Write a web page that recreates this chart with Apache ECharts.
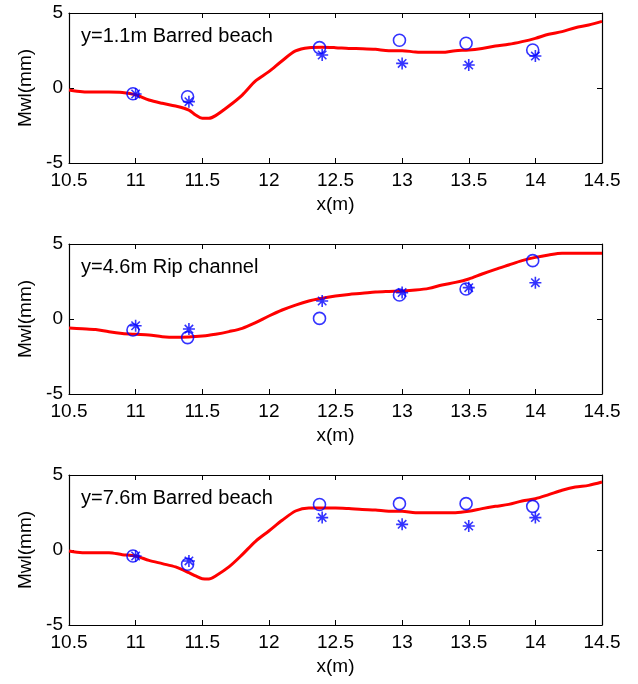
<!DOCTYPE html>
<html>
<head>
<meta charset="utf-8">
<script src="https://cdn.jsdelivr.net/npm/echarts@6/dist/echarts.min.js"></script>
<style>
  html, body { margin: 0; padding: 0; background: #fff; }
  #chart { width: 638px; height: 684px; }
</style>
</head>
<body>
<div id="chart"></div>
<script>
// Cross-shore positions (m) of the model profile
const modelX = [10.5, 10.6, 10.7, 10.8, 10.9, 11.0, 11.1, 11.2, 11.3, 11.4, 11.45, 11.5, 11.55, 11.6, 11.7, 11.8, 11.9,
  12.0, 12.1, 12.2, 12.3, 12.4, 12.5, 12.6, 12.7, 12.8, 12.9, 13.0, 13.1, 13.2, 13.3, 13.4, 13.5,
  13.6, 13.7, 13.8, 13.9, 14.0, 14.1, 14.2, 14.3, 14.4, 14.5];

// Modelled mean water level (mm) at each transect
const modelY11 = [-0.13, -0.25, -0.27, -0.27, -0.3, -0.45, -0.8, -1.02, -1.2, -1.47, -1.8, -2.02, -2.02, -1.84, -1.2, -0.47, 0.47,
  1.09, 1.82, 2.47, 2.69, 2.72, 2.69, 2.64, 2.62, 2.58, 2.49, 2.49, 2.4, 2.38, 2.38, 2.49, 2.53,
  2.64, 2.8, 2.91, 3.09, 3.31, 3.58, 3.76, 4.02, 4.2, 4.44];
const modelY46 = [-0.6, -0.65, -0.7, -0.85, -0.96, -1.02, -1.07, -1.18, -1.22, -1.2, -1.17, -1.13, -1.08, -1.02, -0.84, -0.62, -0.24,
  0.2, 0.6, 0.93, 1.2, 1.38, 1.53, 1.64, 1.71, 1.8, 1.84, 1.87, 1.93, 2.04, 2.27, 2.44, 2.67,
  3.0, 3.31, 3.6, 3.89, 4.11, 4.27, 4.38, 4.38, 4.38, 4.38];
const modelY76 = [-0.07, -0.18, -0.18, -0.18, -0.31, -0.4, -0.69, -0.91, -1.13, -1.51, -1.73, -1.91, -1.93, -1.73, -1.13, -0.31, 0.58,
  1.27, 1.98, 2.6, 2.8, 2.8, 2.8, 2.76, 2.7, 2.67, 2.58, 2.58, 2.49, 2.49, 2.49, 2.49, 2.58,
  2.76, 2.91, 3.04, 3.27, 3.42, 3.69, 3.98, 4.2, 4.31, 4.53];

// Gauge positions (m) for the two measured data sets
const circleX = [10.98, 11.39, 12.38, 12.98, 13.48, 13.98];
const starX = [11.0, 11.4, 12.4, 13.0, 13.5, 14.0];

// Measured mean water level (mm): circles and asterisks
const circleY11 = [-0.38, -0.58, 2.69, 3.18, 2.98, 2.53];
const starY11 = [-0.4, -0.91, 2.2, 1.64, 1.53, 2.13];
const circleY46 = [-0.73, -1.24, 0.04, 1.6, 2.0, 3.89];
const starY46 = [-0.45, -0.67, 1.2, 1.76, 2.09, 2.42];
const circleY76 = [-0.4, -0.95, 3.03, 3.09, 3.09, 2.91];
const starY76 = [-0.4, -0.73, 2.16, 1.71, 1.6, 2.16];

// Panel captions
const captions = ['y=1.1m Barred beach', 'y=4.6m Rip channel', 'y=7.6m Barred beach'];

// Axis ticks
const xMin = 10.5, xMax = 14.5, xStep = 0.5;
const yMin = -5, yMax = 5, yStep = 5;

const panels = [
  { model: modelY11, circles: circleY11, stars: starY11 },
  { model: modelY46, circles: circleY46, stars: starY46 },
  { model: modelY76, circles: circleY76, stars: starY76 }
];

const FONT = "'Liberation Sans', Arial, sans-serif";
const FS = 19;
const gridTops = [13, 244, 475];
const STAR = 'path://M10,0L10,20M0,10L20,10M3,3L17,17M3,17L17,3';

const zip = (xs, ys) => xs.map((x, i) => [x, ys[i]]);

const grids = [], xAxes = [], yAxes = [], series = [], titles = [];

panels.forEach((p, i) => {
  grids.push({ left: 69, right: 36, top: gridTops[i], height: 150, containLabel: false });

  const axisLine = { show: true, onZero: false, lineStyle: { color: '#000', width: 1.2 } };
  const tick = { show: true, inside: true, length: 5, lineStyle: { color: '#000', width: 1 } };

  xAxes.push({
    type: 'value', gridIndex: i, position: 'bottom', min: xMin, max: xMax, interval: xStep,
    axisLine, axisTick: tick, splitLine: { show: false },
    axisLabel: { color: '#000', fontFamily: FONT, fontSize: FS, margin: 8 },
    name: 'x(m)', nameLocation: 'middle', nameGap: 32,
    nameTextStyle: { color: '#000', fontFamily: FONT, fontSize: FS }
  });
  xAxes.push({
    type: 'value', gridIndex: i, position: 'top', min: xMin, max: xMax, interval: xStep,
    axisLine, axisTick: tick, splitLine: { show: false }, axisLabel: { show: false }
  });
  yAxes.push({
    type: 'value', gridIndex: i, position: 'left', min: yMin, max: yMax, interval: yStep,
    axisLine, axisTick: tick, splitLine: { show: false },
    axisLabel: { color: '#000', fontFamily: FONT, fontSize: FS, margin: 6 },
    name: 'Mwl(mm)', nameLocation: 'middle', nameGap: 33,
    nameTextStyle: { color: '#000', fontFamily: FONT, fontSize: FS }
  });
  yAxes.push({
    type: 'value', gridIndex: i, position: 'right', min: yMin, max: yMax, interval: yStep,
    axisLine, axisTick: tick, splitLine: { show: false }, axisLabel: { show: false }
  });

  series.push({
    type: 'line', xAxisIndex: 2 * i, yAxisIndex: 2 * i,
    data: zip(modelX, p.model), showSymbol: false, smooth: 0.3,
    lineStyle: { color: '#ff0000', width: 3 }, z: 2, silent: true
  });
  series.push({
    type: 'scatter', xAxisIndex: 2 * i, yAxisIndex: 2 * i,
    data: zip(circleX, p.circles), symbol: 'circle', symbolSize: 12,
    itemStyle: { color: 'rgba(0,0,0,0)', borderColor: '#0000ff', borderWidth: 1.6 }, z: 3
  });
  series.push({
    type: 'scatter', xAxisIndex: 2 * i, yAxisIndex: 2 * i,
    data: zip(starX, p.stars), symbol: STAR, symbolSize: 12,
    itemStyle: { color: 'rgba(0,0,0,0)', borderColor: '#0000ff', borderWidth: 1.6 }, z: 3
  });

  titles.push({
    text: captions[i], left: 81, top: gridTops[i] + 13, padding: 0,
    textStyle: { color: '#000', fontFamily: FONT, fontSize: 20, fontWeight: 'normal' }
  });
});

const chart = echarts.init(document.getElementById('chart'), null, { renderer: 'canvas' });
chart.setOption({
  animation: false,
  backgroundColor: '#fff',
  title: titles,
  grid: grids,
  xAxis: xAxes,
  yAxis: yAxes,
  series
});
</script>
</body>
</html>
